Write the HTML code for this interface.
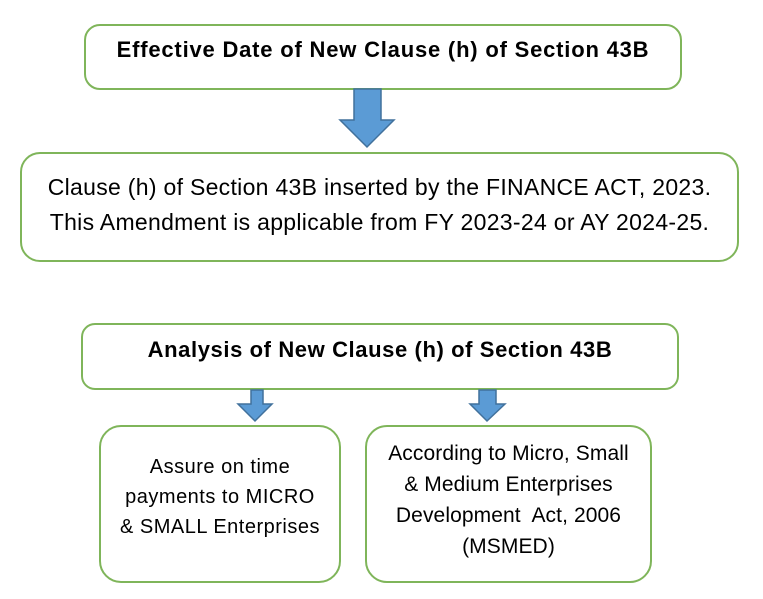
<!DOCTYPE html>
<html><head><meta charset="utf-8"><style>
body{margin:0;background:#fff;width:763px;height:599px;position:relative;overflow:hidden;font-family:"Liberation Sans",sans-serif;color:#000}
.b{position:absolute;box-sizing:border-box;border:2px solid #7fb55a;border-radius:16px;background:#fff}
.t{position:absolute;left:0;right:0;text-align:center;white-space:nowrap}
svg{position:absolute;left:0;top:0}
</style></head><body>
<div class="b" style="left:84px;top:24px;width:598px;height:66px"><div class="t" style="top:11px;font-size:22px;font-weight:bold;letter-spacing:0.8px">Effective Date of New Clause (h) of Section 43B</div></div>
<div class="b" style="left:20px;top:152px;width:719px;height:110px;border-radius:20px"><div class="t" style="top:16px;font-size:23px;line-height:35px;letter-spacing:0.3px">Clause (h) of Section 43B inserted by the FINANCE ACT, 2023.<br>This Amendment is applicable from FY 2023-24 or AY 2024-25.</div></div>
<div class="b" style="left:81px;top:323px;width:598px;height:67px;border-radius:14px"><div class="t" style="top:12px;font-size:22px;font-weight:bold;letter-spacing:0.6px">Analysis of New Clause (h) of Section 43B</div></div>
<div class="b" style="left:99px;top:425px;width:242px;height:158px;border-radius:22px"><div class="t" style="top:25px;font-size:20px;line-height:30px;letter-spacing:0.5px">Assure on time<br>payments to MICRO<br>&amp; SMALL Enterprises</div></div>
<div class="b" style="left:365px;top:425px;width:287px;height:158px;border-radius:22px"><div class="t" style="top:11px;font-size:21px;line-height:31px;letter-spacing:0.1px">According to Micro, Small<br>&amp; Medium Enterprises<br>Development&nbsp; Act, 2006<br>(MSMED)</div></div>
<svg width="763" height="599">
<g fill="#5b9bd5" stroke="#41719c" stroke-width="1.5">
<polygon points="354,89 381,89 381,120 394,120 367,147 340,120 354,120"/>
<polygon points="251,390 263,390 263,404 272,404 255,421 238,404 251,404"/>
<polygon points="479,390 496,390 496,404 505,404 487,421 470,404 479,404"/>
</g></svg>
</body></html>
